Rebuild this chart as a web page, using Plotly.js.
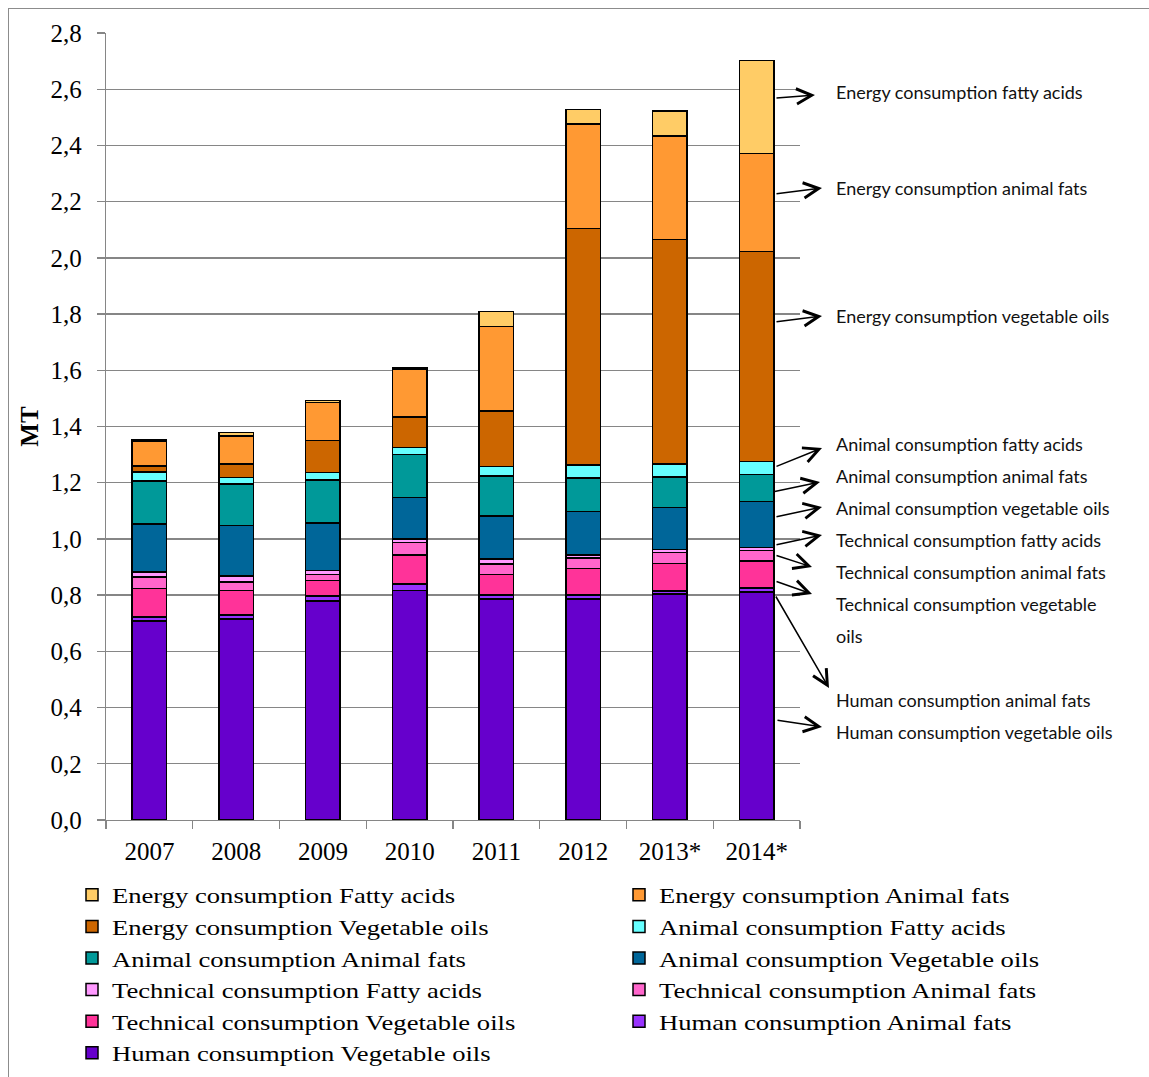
<!DOCTYPE html>
<html>
<head>
<meta charset="utf-8">
<script src="https://cdn.plot.ly/plotly-3.0.1.min.js"></script>
<style>
  html, body { margin: 0; padding: 0; background: #ffffff; }
  #chart { width: 1149px; height: 1077px; }
  #frame { position: absolute; left: 8px; top: 8px; width: 1145px; height: 1072px;
           border: 1px solid #8c8c8c; pointer-events: none; box-sizing: border-box; }
  /* the key uses a wide serif lettering: stretch entries sideways from their left edge */
  #chart text.legendtext, #chart text.legend2text {
    transform-box: fill-box; transform-origin: 0 50%; transform: scaleX(1.21);
  }
  #chart .infolayer g[class^="legend"], #chart .infolayer g[class^="legend"] g {
    clip-path: none !important;
  }
</style>
</head>
<body>
<div id="chart"></div>
<div id="frame"></div>
<script>
// Years on the category axis
const years = ['2007', '2008', '2009', '2010', '2011', '2012', '2013*', '2014*'];

// Consumption by use and raw material, million tonnes (stacked bottom to top)
const humanVegetableOils     = [0.708, 0.715, 0.779, 0.816, 0.786, 0.786, 0.804, 0.812];
const humanAnimalFats        = [0.015, 0.014, 0.018, 0.023, 0.015, 0.015, 0.011, 0.014];
const technicalVegetableOils = [0.100, 0.087, 0.055, 0.104, 0.073, 0.094, 0.098, 0.095];
const technicalAnimalFats    = [0.042, 0.030, 0.021, 0.044, 0.036, 0.038, 0.039, 0.037];
const technicalFattyAcids    = [0.018, 0.023, 0.015, 0.013, 0.018, 0.010, 0.011, 0.012];
const animalVegetableOils    = [0.170, 0.178, 0.168, 0.147, 0.154, 0.154, 0.148, 0.163];
const animalAnimalFats       = [0.154, 0.148, 0.154, 0.154, 0.142, 0.119, 0.110, 0.097];
const animalFattyAcids       = [0.032, 0.024, 0.027, 0.024, 0.033, 0.047, 0.045, 0.045];
const energyVegetableOils    = [0.020, 0.048, 0.113, 0.108, 0.199, 0.842, 0.799, 0.747];
const energyAnimalFats       = [0.089, 0.099, 0.135, 0.170, 0.299, 0.371, 0.368, 0.350];
const energyFattyAcids       = [0.004, 0.012, 0.008, 0.006, 0.054, 0.052, 0.090, 0.330];

// Series names as shown in the legend
const seriesNames = [
  'Human consumption Vegetable oils', 'Human consumption Animal fats',
  'Technical consumption Vegetable oils', 'Technical consumption Animal fats',
  'Technical consumption Fatty acids', 'Animal consumption Vegetable oils',
  'Animal consumption Animal fats', 'Animal consumption Fatty acids',
  'Energy consumption Vegetable oils', 'Energy consumption Animal fats',
  'Energy consumption Fatty acids'
];
const seriesValues = [
  humanVegetableOils, humanAnimalFats, technicalVegetableOils, technicalAnimalFats,
  technicalFattyAcids, animalVegetableOils, animalAnimalFats, animalFattyAcids,
  energyVegetableOils, energyAnimalFats, energyFattyAcids
];
const seriesColors = [
  '#6600CC', '#9933FF', '#FF3399', '#FF66CC', '#FF99FF', '#006699',
  '#009999', '#66FFFF', '#CC6600', '#FF9933', '#FFCC66'
];
// Which of the two legend columns each series goes to
const seriesLegend = [
  'legend', 'legend2', 'legend', 'legend2', 'legend', 'legend2',
  'legend', 'legend2', 'legend', 'legend2', 'legend'
];

// Side labels next to the 2014 bar
const sideLabels = [
  'Energy consumption fatty acids', 'Energy consumption animal fats',
  'Energy consumption vegetable oils', 'Animal consumption fatty acids',
  'Animal consumption animal fats', 'Animal consumption vegetable oils',
  'Technical consumption fatty acids', 'Technical consumption animal fats',
  'Technical consumption vegetable', 'oils', 'Human consumption animal fats',
  'Human consumption vegetable oils'
];

// Plot area geometry in page pixels
const PL = 106, PR = 800, PT = 33, PB = 820;
const W = 1149, H = 1077;
const px = x => (x - PL) / (PR - PL);
const py = y => (PB - y) / (PB - PT);

const traces = seriesValues.map((vals, i) => ({
  type: 'bar',
  name: seriesNames[i],
  x: years,
  y: vals,
  legend: seriesLegend[i],
  marker: { color: seriesColors[i], line: { color: '#000000', width: 1.5 } },
  hoverinfo: 'x+y+name'
}));

// label text positions (left edge x, centre y) and arrow head/tail pixels
const labelPos = [
  [834, 92], [834, 188], [834, 316], [834, 444], [834, 476], [834, 508],
  [834, 540], [834, 572], [834, 604], [834, 636], [834, 700], [834, 732]
];
const arrowPix = [
  [815, 95, 775, 98], [822, 188, 775, 194], [822, 316, 775, 322],
  [822, 448, 775, 467], [820, 482, 772, 492], [822, 507, 775, 517],
  [822, 535, 775, 545], [812, 567, 775, 555], [812, 594, 775, 581],
  [829, 688, 775, 595], [822, 727, 776, 720]
];

const annotations = [];
sideLabels.forEach((t, i) => {
  annotations.push({
    xref: 'paper', yref: 'paper', x: px(labelPos[i][0]), y: py(labelPos[i][1]),
    xanchor: 'left', yanchor: 'middle', align: 'left', showarrow: false,
    text: t, font: { family: 'Lato, "Open Sans", sans-serif', size: 18, color: '#111111' }
  });
});
arrowPix.forEach(a => {
  annotations.push({
    xref: 'paper', yref: 'paper', x: px(a[0]), y: py(a[1]),
    ax: a[2] - a[0], ay: a[3] - a[1], axref: 'pixel', ayref: 'pixel',
    text: '', showarrow: true, arrowhead: 5, arrowsize: 2, arrowwidth: 1.5,
    arrowcolor: '#000000', standoff: 0, startstandoff: 0
  });
});

const serif = '"Liberation Serif", "Times New Roman", serif';
const legendCommon = {
  orientation: 'v', traceorder: 'reversed', yref: 'paper', yanchor: 'top',
  xanchor: 'left', y: py(874), bgcolor: 'rgba(0,0,0,0)', borderwidth: 0,
  font: { family: serif, size: 22, color: '#000000' }, itemclick: false
};

const layout = {
  width: W, height: H,
  margin: { l: PL, r: W - PR, t: PT, b: H - PB, autoexpand: false },
  paper_bgcolor: '#ffffff', plot_bgcolor: '#ffffff',
  barmode: 'stack', bargap: 0.6,
  separators: ', ',
  showlegend: true,
  legend: Object.assign({}, legendCommon, { x: px(72) }),
  legend2: Object.assign({}, legendCommon, { x: px(619) }),
  xaxis: {
    type: 'category', automargin: false,
    showline: true, linecolor: '#868686', linewidth: 1.3,
    ticks: 'outside', tickson: 'boundaries', ticklen: 8, tickcolor: '#868686', tickwidth: 1.3,
    ticklabelstandoff: 9,
    tickfont: { family: serif, size: 25, color: '#000000' },
    showgrid: false, zeroline: false
  },
  yaxis: {
    range: [0, 2.8], dtick: 0.2, tick0: 0, tickformat: '.1f', automargin: false,
    showline: true, linecolor: '#868686', linewidth: 1.3,
    ticks: 'outside', ticklen: 8, tickcolor: '#868686', tickwidth: 1.3,
    ticklabelstandoff: 10,
    tickfont: { family: serif, size: 25, color: '#000000' },
    showgrid: true, gridcolor: '#868686', gridwidth: 1.3, zeroline: false,
    title: { text: '<b>MT</b>', standoff: 4, font: { family: serif, size: 25, color: '#000000' } }
  },
  annotations: annotations
};

Plotly.newPlot('chart', traces, layout, { displayModeBar: false, staticPlot: true });
</script>
</body>
</html>
